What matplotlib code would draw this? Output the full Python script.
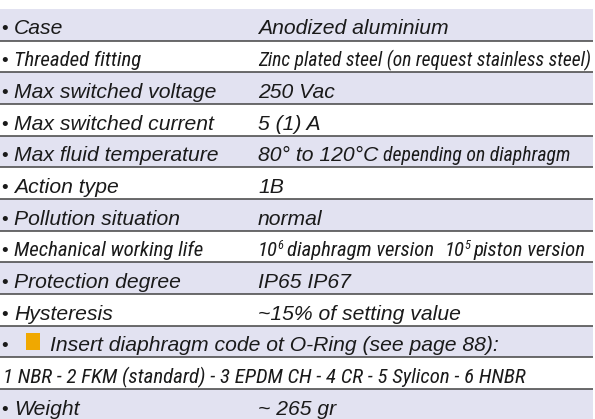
import matplotlib
matplotlib.use("Agg")
import matplotlib.pyplot as plt
import matplotlib.patches as mpatches
from matplotlib import font_manager

# --- Table content ---
LABELS = [
    "Case", "Threaded fitting", "Max switched voltage", "Max switched current",
    "Max fluid temperature", "Action type", "Pollution situation",
    "Mechanical working life", "Protection degree", "Hysteresis",
]
VALUES = [
    "Anodized aluminium", "Zinc plated steel (on request stainless steel)",
    "250 Vac", "5 (1) A", None, "1B", "normal", None, "IP65 IP67",
    "~15% of setting value",
]
NARROW_LABELS = {"Threaded fitting", "Mechanical working life"}
NARROW_VALUES = {"Zinc plated steel (on request stainless steel)"}
TEMP_RUNS = [("80° to 120°C", "n", 5), ("depending on diaphragm", "c", 0)]
LIFE_RUNS = [("10", "c", -0.5), ("6", "s", 4), ("diaphragm version", "c", 10),
             ("10", "c", -0.5), ("5", "s", 4), ("piston version", "c", 0)]
INSERT_TEXT = "Insert diaphragm code ot O-Ring (see page 88):"
MATERIALS = "1 NBR - 2 FKM (standard) - 3 EPDM CH - 4 CR - 5 Sylicon - 6 HNBR"
WEIGHT_LABEL = "Weight"
WEIGHT_VALUE = "~ 265 gr"

# --- Style ---
W, H = 595, 419
TOP, ROW_H = 9, 31.67
LAVENDER = "#e2e2f1"
RULE = "#4a4a4a"
ORANGE = "#f0a800"
INK = "#1a1a1a"
FS = 15.2
X_BULLET, X_LABEL, X_VALUE = 1, 14, 258
RIGHT = 591

available = {f.name for f in font_manager.fontManager.ttflist}
NORMAL = "Liberation Sans"
NARROW = next((f for f in ["Liberation Sans Narrow", "Arial Narrow", "Roboto Condensed",
                           "PT Sans Narrow", "Archivo Narrow", "Asap Condensed"]
               if f in available), "Liberation Sans")

fig = plt.figure(figsize=(W / 100, H / 100), dpi=100)
ax = fig.add_axes([0, 0, 1, 1])
ax.set_xlim(0, W)
ax.set_ylim(H, 0)
ax.axis("off")
renderer = fig.canvas.get_renderer()
inv = ax.transData.inverted()

# size the narrow face from the mechanical-life label width
probe = ax.text(0, 0, "Mechanical working life", family=NARROW, size=10, style="italic")
pw = probe.get_window_extent(renderer).width
probe.remove()
FS_N = 10 * 190 / pw

n_rows = 13
for i in range(n_rows):
    y0 = TOP + i * ROW_H
    if i % 2 == 0:
        ax.add_patch(mpatches.Rectangle((0, y0), 593, ROW_H, color=LAVENDER, lw=0))
    if i > 0:
        ax.plot([0, 593], [y0, y0], color=RULE, lw=1.15, solid_capstyle="butt")


def style(kind, k=1.0):
    if kind == "c":
        return dict(family=NARROW, size=FS_N * k, style="italic")
    if kind == "s":
        return dict(family=NARROW, size=FS_N * 0.6 * k, style="italic")
    return dict(family=NORMAL, size=FS, style="italic")


def right_of(t):
    bb = t.get_window_extent(renderer)
    return inv.transform((bb.x1, bb.y0))[0]


def draw_runs(x0, y, runs, right=RIGHT):
    k = 1.0
    for _ in range(3):
        x, made, ends = x0, [], []
        for s, kind, gap in runs:
            yy = y - 7 if kind == "s" else y
            t = ax.text(x, yy, s, va="baseline", ha="left", color=INK, **style(kind, k))
            made.append(t)
            ends.append(right_of(t))
            x = ends[-1] + gap
        end = ends[-1]
        if end <= right:
            return
        for t in made:
            t.remove()
        nx0 = ends[0] if runs[0][1] == "n" else x0
        k *= (right - nx0) / (end - nx0)


def baseline(i):
    return TOP + i * ROW_H + 25.5


def bullet(y):
    ax.text(X_BULLET, y, "•", va="baseline", family=NORMAL, size=FS * 0.9, color=INK)


for i, lab in enumerate(LABELS):
    y = baseline(i)
    bullet(y)
    kind = "c" if lab in NARROW_LABELS else "n"
    ax.text(X_LABEL, y, lab, va="baseline", color=INK, **style(kind))
    val = VALUES[i]
    if val is not None:
        kind = "c" if val in NARROW_VALUES else "n"
        draw_runs(X_VALUE, y, [(val, kind, 0)])

draw_runs(X_VALUE, baseline(4), TEMP_RUNS, right=571)
draw_runs(X_VALUE, baseline(7), LIFE_RUNS, right=586)

# insert row with the orange code marker
y = baseline(10)
bullet(y)
ax.add_patch(mpatches.Rectangle((26, y - 18), 14, 17, color=ORANGE, lw=0))
ax.text(50, y, INSERT_TEXT, va="baseline", color=INK, **style("n"))

draw_runs(3, baseline(11), [(MATERIALS, "c", 0)], right=560)

y = baseline(12)
bullet(y)
ax.text(X_LABEL, y, WEIGHT_LABEL, va="baseline", color=INK, **style("n"))
ax.text(X_VALUE, y, WEIGHT_VALUE, va="baseline", color=INK, **style("n"))

fig.savefig("out.png", dpi=100)
